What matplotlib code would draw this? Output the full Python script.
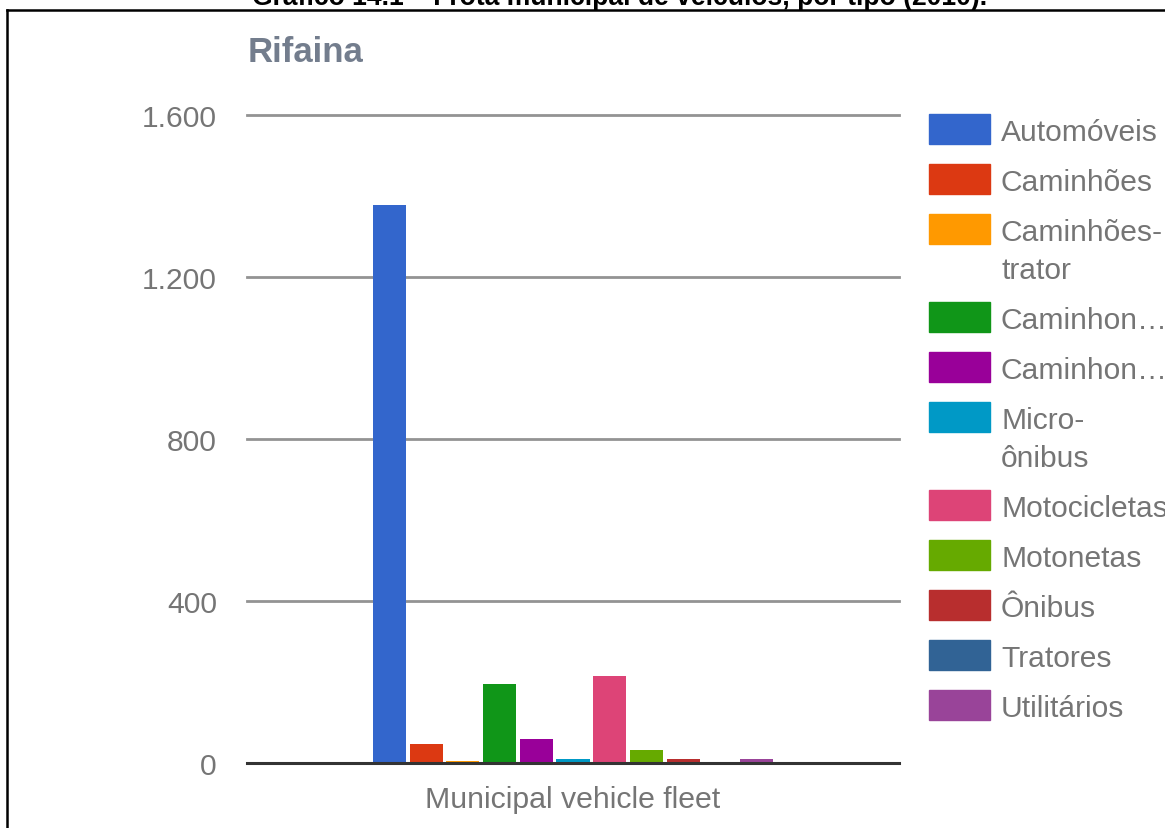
import matplotlib
matplotlib.use("Agg")
import matplotlib.pyplot as plt
from matplotlib.patches import Rectangle
from matplotlib.lines import Line2D

# ---- data ----
category = "Municipal vehicle fleet"
series_names = ["Automóveis", "Caminhões", "Caminhões-trator", "Caminhonetes",
                "Caminhonetas", "Micro-ônibus", "Motocicletas", "Motonetas",
                "Ônibus", "Tratores", "Utilitários"]
legend_labels = ["Automóveis", "Caminhões", "Caminhões-\ntrator", "Caminhon…",
                 "Caminhon…", "Micro-\nônibus", "Motocicletas", "Motonetas",
                 "Ônibus", "Tratores", "Utilitários"]
values = [1378, 47, 5, 194, 60, 10, 215, 31, 10, 2, 9]
colors = ["#3366cc", "#dc3912", "#ff9900", "#109618", "#990099", "#0099c6",
          "#dd4477", "#66aa00", "#b82e2e", "#316395", "#994499"]
yticks = [0, 400, 800, 1200, 1600]
ytick_labels = ["0", "400", "800", "1.200", "1.600"]
chart_title = "Rifaina"
doc_title = "Gráfico 14.1 – Frota municipal de veículos, por tipo (2010)."

W, H = 1165, 829
plt.rcParams['font.family'] = ['Liberation Sans', 'DejaVu Sans']
fig = plt.figure(figsize=(W / 100, H / 100), dpi=100)

def fx(px):
    return px / W

def fy(py):
    return 1 - py / H

# axes placement
left, right, top, bottom = 247, 899, 116, 764
ax = fig.add_axes([fx(left), fy(bottom), (right - left) / W, (bottom - top) / H])
n = len(values)
for i, (v, c) in enumerate(zip(values, colors)):
    ax.bar(i - (n - 1) / 2, v, width=0.9, color=c, zorder=3)
ax.set_xlim(-8.885, 8.885)
ax.set_ylim(0, 1600)
ax.set_yticks(yticks)
ax.set_yticklabels(ytick_labels)
ax.set_xticks([])
for s in ax.spines.values():
    s.set_visible(False)
ax.tick_params(axis='y', length=0, pad=21.6, labelsize=21.6, labelcolor='#757575')
for t in yticks[1:]:
    ax.axhline(t, color='#939393', lw=2.0, zorder=1, clip_on=False)
ax.axhline(0, color='#333333', lw=2.2, zorder=4, clip_on=False)
ax.patch.set_alpha(0)

# x category label
fig.text(fx(573), fy(808), category, ha='center', va='baseline',
         fontsize=21.8, color='#757575')

# chart title
fig.text(fx(248), fy(62), chart_title, ha='left', va='baseline',
         fontsize=25, fontweight='bold', color='#737d8d')

# legend (manual, Google-chart style)
y = 130
for lab, c in zip(legend_labels, colors):
    fig.add_artist(Rectangle((fx(929), fy(y + 15)), fx(61), 30 / H,
                             transform=fig.transFigure, color=c))
    lines = lab.split("\n")
    for k, ln in enumerate(lines):
        fig.text(fx(1001), fy(y + 11 + 38 * k), ln, ha='left', va='baseline',
                 fontsize=21.6, color='#757575')
    y += 50 + 38 * (len(lines) - 1)

# document frame (partially visible)
fig.add_artist(Line2D([fx(7), 1.0], [fy(11), fy(11)], transform=fig.transFigure,
                      color='black', lw=1.8))
fig.add_artist(Line2D([fx(7), fx(7)], [fy(11), 0.0], transform=fig.transFigure,
                      color='black', lw=1.8))

# document caption, cut off at top
t = fig.text(fx(252), fy(5), doc_title, ha='left', va='baseline',
             fontsize=16, fontweight='bold', color='black')
fig.canvas.draw()
bb = t.get_window_extent(renderer=fig.canvas.get_renderer())
t.set_fontsize(16 * 735 / bb.width)

fig.savefig("out.png", dpi=100)
